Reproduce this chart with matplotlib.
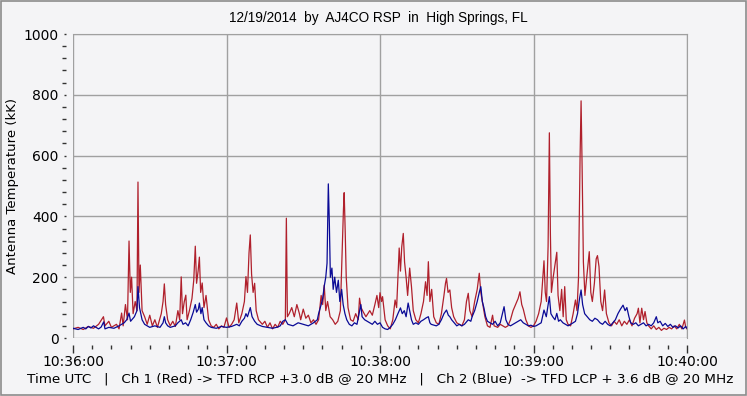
import matplotlib.pyplot as plt
from matplotlib.patches import Rectangle
from matplotlib.ticker import FixedLocator, MultipleLocator

# seconds after 10:36:00 UTC, antenna temperature in kK
red_t = [0, 2, 4, 6, 8, 10, 11.9, 12.5, 14, 15, 17, 18, 19, 19.6, 20.5, 21.3, 21.9, 22.4, 22.9, 23.5,
         24.3, 25.0, 25.4, 25.8, 26.3, 27, 28, 29, 30, 31, 32, 33, 34.5, 35.2, 35.7, 36.2, 37, 38, 39, 40,
         41, 41.7, 42.3, 42.8, 43.5, 44.1, 44.6, 45.5, 46.5, 47.2, 47.8, 48.3, 48.9, 49.4, 49.9, 50.5, 51.2, 52, 53, 54,
         55, 56, 57, 58, 59, 60, 61, 62, 63, 64, 64.8, 66, 67, 67.6, 68.2, 68.8, 69.3, 69.8, 70.4, 71,
         71.6, 72.5, 74, 75, 76, 77, 78, 79, 80, 81, 82, 83.0, 83.4, 83.8, 84.5, 85.5, 86.5, 87.5, 88.5, 89,
         90, 91, 92, 93, 94, 95, 96, 97, 97.6, 98.2, 98.8, 99.5, 100.5, 101.5, 102.5, 103.5, 104.5, 105.3, 105.7, 106.0,
         106.4, 106.8, 107.5, 108.5, 109.5, 110.5, 111.5, 112, 112.6, 113.5, 114.5, 116, 117, 118, 118.8, 119.5, 120, 120.6, 121, 122,
         123, 124, 125, 125.9, 126.5, 127.5, 128, 128.5, 129.1, 129.6, 130.2, 130.8, 131.6, 132.3, 133, 134, 135, 136, 137, 137.8,
         138.4, 138.9, 139.5, 140.2, 141, 142, 143, 144, 145, 145.6, 146, 146.6, 147.3, 148, 148.8, 150, 151, 152, 153, 153.8,
         154.5, 155.1, 156, 157, 158, 158.8, 159.4, 160, 161, 162, 163, 164, 164.6, 166, 167, 168, 169, 170, 171, 172,
         173, 174, 174.7, 175.4, 176, 177, 178, 179, 180, 181, 182, 183, 184.1, 184.6, 185.1, 185.7, 186.2, 186.6, 187, 187.7,
         188.4, 189.1, 189.6, 190.3, 191, 191.6, 192.2, 192.8, 193.5, 194.5, 195.5, 196.4, 197, 197.6, 198.2, 198.6, 199, 199.5, 200.1, 200.8,
         201.8, 202.4, 203, 203.8, 204.5, 205.0, 205.6, 206.3, 207, 207.8, 208.5, 209.5, 210.5, 211.5, 212.5, 213.5, 214.5, 215.5, 216.5, 217.5,
         218.5, 219.5, 220.5, 221, 221.6, 222.3, 223, 223.6, 224.3, 225, 226, 227, 228, 229, 230, 231, 232, 233, 234, 235,
         236, 237, 238, 239, 239.5, 240]
red_v = [30, 35, 28, 38, 32, 45, 70, 40, 55, 35, 45, 30, 82, 40, 110, 60, 319, 150, 200, 80,
         120, 90, 513, 150, 240, 90, 70, 45, 75, 40, 60, 35, 80, 120, 178, 110, 60, 40, 55, 38,
         90, 60, 201, 80, 120, 141, 60, 90, 130, 190, 302, 180, 220, 266, 150, 181, 100, 140, 60, 40,
         35, 45, 30, 40, 35, 66, 35, 45, 60, 115, 50, 80, 120, 202, 150, 280, 339, 210, 150, 180,
         90, 60, 45, 55, 35, 50, 30, 45, 35, 55, 45, 60, 394, 70, 80, 100, 70, 110, 80, 60,
         95, 65, 75, 50, 60, 45, 60, 140, 110, 174, 90, 120, 70, 60, 45, 55, 90, 306, 420, 478,
         350, 200, 100, 60, 55, 80, 60, 131, 100, 85, 70, 90, 75, 110, 140, 100, 149, 120, 136, 60,
         40, 30, 60, 125, 100, 296, 220, 300, 344, 250, 200, 140, 230, 169, 90, 60, 50, 80, 120, 185,
         140, 251, 120, 160, 70, 50, 45, 80, 140, 180, 196, 150, 158, 100, 70, 50, 45, 40, 60, 120,
         147, 90, 70, 120, 160, 213, 150, 120, 70, 40, 35, 75, 40, 35, 45, 40, 35, 40, 60, 90,
         110, 130, 152, 110, 95, 60, 40, 35, 40, 55, 80, 120, 254, 150, 120, 300, 675, 344, 150, 200,
         240, 282, 140, 90, 160, 70, 169, 60, 45, 40, 80, 125, 90, 200, 591, 780, 563, 250, 140, 200,
         284, 150, 120, 180, 260, 271, 235, 120, 90, 158, 80, 50, 40, 55, 45, 60, 40, 55, 45, 60,
         40, 65, 80, 98, 50, 98, 60, 87, 50, 40, 30, 40, 28, 35, 25, 32, 28, 35, 30, 40,
         30, 45, 30, 59, 35, 30]

blue_t = [0, 2, 4, 5, 6, 7, 8, 9, 10, 11, 12, 12.5, 14, 16, 18, 19, 20, 21, 21.9, 22.5,
          24, 25, 25.4, 26, 26.5, 27, 28, 29, 30, 32, 34, 35.2, 35.7, 36.2, 37, 38, 40, 41, 42.3, 43,
          44, 45, 46, 47, 47.8, 48.3, 49, 49.4, 50, 50.5, 51.2, 52, 53, 54, 56, 58, 60, 62, 64, 65,
          66, 67, 67.6, 68.2, 69.3, 70, 71, 72, 74, 76, 78, 80, 81, 82, 83, 84, 86, 88, 90, 92,
          94, 95.5, 96, 97, 97.6, 98.2, 98.8, 99.3, 99.8, 100.2, 100.6, 101.2, 101.7, 102.3, 103, 103.7, 104.3, 105, 105.6, 106.3,
          107, 108, 109, 110, 111, 112.5, 113, 114, 115, 116, 117, 118, 119, 120, 121, 122, 123, 124, 125, 126,
          127, 128, 128.7, 129.5, 130.2, 131, 131.6, 132.3, 133, 134, 135, 136, 137, 138, 138.9, 139.5, 140, 142, 143, 144,
          145, 146, 146.7, 147.3, 148, 149, 150, 151, 152, 153, 154.5, 155.5, 156, 157, 158, 158.8, 159.4, 160, 160.6, 161.3,
          162, 163, 164, 165, 166, 167, 168.5, 169.2, 170, 171, 172, 173, 174, 175, 176, 177, 178, 179, 180, 181,
          182, 183, 184.1, 185, 186.2, 186.8, 187.5, 188.4, 189.1, 189.8, 190.5, 191.5, 192.5, 193.5, 194.5, 195.5, 196.4, 197.2, 198, 198.6,
          199.2, 200, 201, 202, 203, 204, 205, 206, 207, 208, 209, 210, 211, 212, 213, 214, 215, 215.8, 216.5, 217.3,
          218, 219, 220, 221, 222, 223, 224, 225, 226, 227, 228, 228.6, 229.5, 230.5, 231.5, 232.5, 233.5, 234.5, 235.5, 236.5,
          237.5, 238.5, 239.5, 240]
blue_v = [32, 28, 35, 30, 38, 33, 40, 35, 30, 36, 53, 30, 35, 32, 40, 45, 50, 60, 82, 55,
          70, 90, 169, 100, 80, 60, 45, 40, 35, 40, 35, 50, 70, 50, 40, 35, 40, 50, 60, 45,
          50, 40, 60, 85, 110, 85, 95, 115, 80, 100, 60, 50, 40, 35, 32, 38, 35, 38, 45, 40,
          55, 65, 80, 70, 100, 70, 55, 45, 38, 35, 32, 36, 40, 55, 60, 45, 40, 50, 45, 40,
          50, 60, 80, 110, 130, 170, 200, 246, 507, 378, 200, 230, 160, 200, 150, 190, 120, 160, 110, 80,
          60, 45, 40, 50, 45, 110, 70, 60, 55, 50, 45, 55, 45, 50, 35, 30, 28, 35, 45, 60,
          80, 99, 80, 90, 70, 115, 90, 60, 45, 50, 45, 55, 60, 66, 70, 50, 45, 40, 45, 60,
          80, 92, 75, 70, 60, 50, 40, 45, 40, 45, 60, 55, 70, 90, 120, 150, 169, 120, 100, 70,
          55, 50, 45, 55, 40, 50, 103, 60, 45, 40, 45, 50, 55, 60, 50, 45, 40, 42, 38, 40,
          45, 50, 92, 70, 136, 80, 70, 60, 81, 55, 60, 50, 45, 40, 45, 50, 55, 80, 130, 158,
          110, 80, 70, 60, 55, 65, 60, 50, 45, 55, 45, 40, 50, 60, 80, 95, 108, 90, 100, 70,
          50, 45, 50, 40, 45, 50, 40, 45, 40, 50, 70, 50, 55, 40, 48, 38, 45, 35, 40, 33,
          40, 30, 38, 32]

xtick_pos = [0, 60, 120, 180, 240]
xtick_labels = ["10:36:00", "10:37:00", "10:38:00", "10:39:00", "10:40:00"]

bg = '#f4f4f6'
fig = plt.figure(figsize=(7.47, 3.96), dpi=100, facecolor=bg)
ax = fig.add_axes([73/747, 1 - 338/396, 614/747, 304/396], facecolor=bg)

ax.plot(red_t, red_v, color='#b0202c', lw=0.9)
ax.plot(blue_t, blue_v, color='#0a0a96', lw=0.9)

ax.set_xlim(0, 240)
ax.set_ylim(0, 1000)
ax.xaxis.set_major_locator(FixedLocator(xtick_pos))
ax.set_xticklabels(xtick_labels)
ax.xaxis.set_minor_locator(MultipleLocator(7.5))
ax.yaxis.set_major_locator(MultipleLocator(200))
ax.yaxis.set_minor_locator(MultipleLocator(40))
ax.grid(True, which='major', color='#a0a0a0', lw=1)
ax.set_axisbelow(True)

for s in ['left', 'bottom']:
    ax.spines[s].set_position(('outward', 5))
    ax.spines[s].set_visible(False)
for s in ['top', 'right']:
    ax.spines[s].set_color('#a0a0a0')

ax.tick_params(axis='x', which='major', length=6, width=1, color='#333333', pad=1, labelsize=10)
ax.tick_params(axis='x', which='minor', length=3, width=1, color='#333333')
ax.tick_params(axis='y', which='major', length=1.5, width=1, color='#333333', pad=4, labelsize=10)
ax.tick_params(axis='y', which='minor', length=3, width=1, color='#333333')
ax.set_ylabel('Antenna Temperature (kK)', fontsize=9.5)
ax.yaxis.set_label_coords((19 - 73) / 614, 0.5)

fig.text(378/747, 1 - 18/396, '12/19/2014  by  AJ4CO RSP  in  High Springs, FL',
         ha='center', va='center', fontsize=9.8, family='Liberation Sans')
fig.text(380/747, 1 - 379/396,
         'Time UTC   |   Ch 1 (Red) -> TFD RCP +3.0 dB @ 20 MHz   |   Ch 2 (Blue)  -> TFD LCP + 3.6 dB @ 20 MHz',
         ha='center', va='center', fontsize=9.7)

fig.patches.append(Rectangle((0.001, 0.002), 0.997, 0.995, transform=fig.transFigure,
                             fill=False, edgecolor='#8c8c8c', lw=1.2))

fig.savefig('out.png', dpi=100, facecolor=bg)
